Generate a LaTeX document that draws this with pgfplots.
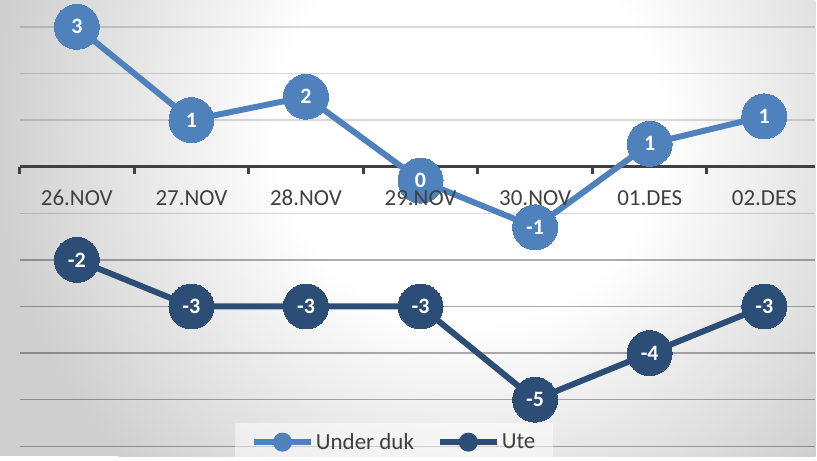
\documentclass[border=0pt]{standalone}
\usepackage{fontspec}
\setmainfont{Carlito}
\usepackage{pgfplots}
\pgfplotsset{compat=1.18}
\usepackage{pgfplotstable}
\definecolor{ukcol}{HTML}{4F81BD}
\definecolor{utecol}{HTML}{2C4D75}
\definecolor{txtcol}{HTML}{404040}
\definecolor{bgout}{gray}{0.81}
\pgfdeclareradialshading{bgshade}{\pgfpointorigin}{color(0bp)=(white); color(10bp)=(white); color(25bp)=(bgout); color(50bp)=(bgout)}
\pgfplotsset{
  /pgfplots/layers/mine/.define layer set={axis background,axis grid,axis ticks,axis lines,pre main,main,axis tick labels,axis descriptions,axis foreground}{/pgfplots/layers/standard},
  ukleg/.style={legend image code/.code={\draw[ukcol, line width=6pt] (0pt,0pt) -- (57pt,0pt); \fill[ukcol, fill opacity=1] (28.5pt,0pt) circle (6.5pt);}},
  uteleg/.style={legend image code/.code={\draw[utecol, line width=6pt] (0pt,0pt) -- (57pt,0pt); \fill[utecol, fill opacity=1] (28.5pt,0pt) circle (6.5pt);}},
}
\pgfplotstableread{
x y lab
0 3.0 3
1 1.0 1
2 1.5 2
3 -0.3 0
4 -1.3 -1
5 0.49 1
6 1.08 1
}\undukdata
\pgfplotstableread{
x y lab
0 -2 -2
1 -3 -3
2 -3 -3
3 -3 -3
4 -5 -5
5 -4 -4
6 -3 -3
}\utedata
\begin{document}
\begin{tikzpicture}
\begin{axis}[
  set layers=mine,
  at={(19.6pt,0pt)}, anchor=south west, scale only axis,
  width=797.4pt, height=457pt,
  xmin=-0.5, xmax=6.446, ymin=-6.210, ymax=3.576,
  clip=false,
  axis x line=middle, axis y line=left,
  y axis line style={draw=none},
  x axis line style={-, line width=3.3pt, color=txtcol},
  hide obscured x ticks=false,
  ytick={-1,...,3}, yticklabels={}, major tick length=0pt,
  extra y ticks={-6,...,-2}, extra y tick labels={},
  extra y tick style={major grid style={black, opacity=0.32, line width=1.5pt}},
  ymajorgrids, xmajorgrids=false,
  major grid style={black, opacity=0.15, line width=1.5pt},
  xtick={0,...,6},
  xticklabels={26.NOV,27.NOV,28.NOV,29.NOV,30.NOV,01.DES,02.DES},
  minor xtick={-0.5,0.5,...,6.5},
  minor tick length=7pt, tick align=center,
  minor x tick style={line width=3pt, color=txtcol, yshift=-3.5pt},
  xticklabel style={anchor=base, yshift=-39pt, font=\fontsize{23}{27}\selectfont, text=txtcol},
  legend columns=-1,
  legend style={at={(0.4708,0.0306)}, anchor=center, draw=none, fill=white, fill opacity=0.5, text opacity=1,
    font=\fontsize{23}{27}\selectfont, text=txtcol, inner xsep=16pt, inner ysep=8pt,
    /tikz/every even column/.append style={column sep=21pt}, nodes={inner sep=2pt}},
  every node near coord/.append style={font=\bfseries\fontsize{22}{26}\selectfont, text=white},
  nodes near coords align=center,
]
\begin{pgfonlayer}{axis background}
\fill[bgout] ([xshift=-19.6pt]rel axis cs:0,0) rectangle (rel axis cs:1,1);
\begin{scope}
\clip ([xshift=-19.6pt]rel axis cs:0,0) rectangle (rel axis cs:1,1);
\shade[overlay, shading=bgshade] ([xshift=450.4pt,yshift=327pt]rel axis cs:0,0) circle (480pt);
\end{scope}
\end{pgfonlayer}
\addplot[ukcol, line width=6pt, mark=*, mark size=22.5pt, mark options={solid, fill=ukcol, draw=ukcol, line width=0pt},
  nodes near coords, point meta=explicit symbolic, ukleg] table[x=x,y=y,meta=lab]{\undukdata};
\addlegendentry{Under duk}
\addplot[utecol, line width=6pt, mark=*, mark size=22.5pt, mark options={solid, fill=utecol, draw=utecol, line width=0pt},
  nodes near coords, point meta=explicit symbolic, uteleg] table[x=x,y=y,meta=lab]{\utedata};
\addlegendentry{Ute}
\end{axis}
\end{tikzpicture}
\end{document}
